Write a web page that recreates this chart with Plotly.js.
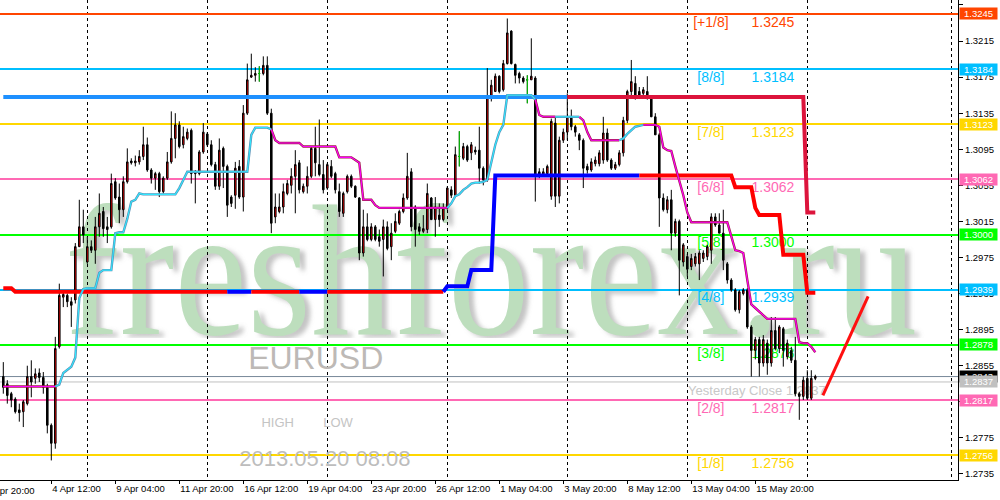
<!DOCTYPE html>
<html>
<head>
<meta charset="utf-8">
<script src="https://cdn.plot.ly/plotly-3.0.1.min.js"></script>
<style>
html,body{margin:0;padding:0;background:#ffffff;}
#chart{width:1000px;height:500px;}
</style>
</head>
<body>
<div id="chart"></div>
<script>
// ================= DATA (EURUSD, H4) =================
const opens = [
1.2843,1.2835,1.2824,1.2818,1.2806,1.2804,1.2813,1.2843,1.2841,1.2847,
1.2842,1.2831,1.2789,1.2769,1.2876,1.2931,1.2933,1.2926,1.2928,1.2987,
1.3009,1.2970,1.2987,1.2983,1.3009,1.3026,1.3009,1.3009,1.3059,1.3042,
1.3028,1.3059,1.3082,1.3080,1.3081,1.3087,1.3100,1.3072,1.3063,1.3068,
1.3048,1.3063,1.3081,1.3107,1.3122,1.3100,1.3107,1.3116,1.3070,1.3068,
1.3092,1.3112,1.3100,1.3078,1.3054,1.3096,1.3076,1.3042,1.3044,1.3076,
1.3042,1.3135,1.3175,1.3177,1.3179,1.3179,1.3188,1.3135,1.3020,1.3026,
1.3031,1.3046,1.3055,1.3065,1.3080,1.3048,1.3054,1.3065,1.3096,1.3078,
1.3067,1.3052,1.3076,1.3068,1.3048,1.3024,1.3048,1.3065,1.3054,1.3041,
1.2980,1.3009,1.2995,1.3009,1.2998,1.2995,1.3009,1.2987,1.3004,1.3013,
1.3026,1.3041,1.3070,1.3031,1.3009,1.3004,1.3006,1.3041,1.3017,1.3022,
1.3017,1.3030,1.3050,1.3044,1.3087,1.3085,1.3098,1.3091,1.3094,1.3094,
1.3074,1.3061,1.3153,1.3159,1.3176,1.3161,1.3190,1.3226,1.3189,1.3179,
1.3174,1.3172,1.3172,1.3174,1.3070,1.3067,1.3068,1.3043,1.3124,1.3043,
1.3105,1.3114,1.3131,1.3120,1.3111,1.3105,1.3076,1.3072,1.3079,1.3079,
1.3083,1.3113,1.3083,1.3074,1.3078,1.3091,1.3127,1.3159,1.3168,1.3159,
1.3157,1.3159,1.3152,1.3131,1.3111,1.3041,1.3028,1.3039,1.3002,1.3015,
1.2970,1.2976,1.2965,1.2968,1.2968,1.2974,1.2976,1.2983,1.3020,1.3011,
1.3002,1.2968,1.2950,1.2939,1.2917,1.2935,1.2939,1.2898,1.2872,1.2884,
1.2858,1.2880,1.2858,1.2894,1.2874,1.2896,1.2865,1.2872,1.2861,1.2824,
1.2821,1.2841,1.2819,1.2841
];
const highs = [
1.2859,1.2839,1.2826,1.2820,1.2813,1.2817,1.2855,1.2861,1.2852,1.2852,
1.2848,1.2835,1.2791,1.2887,1.2946,1.2937,1.2935,1.2931,1.2991,1.3039,
1.3028,1.2998,1.2994,1.3020,1.3046,1.3031,1.3020,1.3068,1.3063,1.3057,
1.3065,1.3096,1.3085,1.3088,1.3094,1.3120,1.3108,1.3074,1.3070,1.3070,
1.3065,1.3092,1.3137,1.3135,1.3126,1.3120,1.3118,1.3118,1.3072,1.3094,
1.3124,1.3114,1.3105,1.3081,1.3107,1.3098,1.3078,1.3044,1.3081,1.3083,
1.3144,1.3190,1.3201,1.3186,1.3187,1.3198,1.3198,1.3140,1.3046,1.3046,
1.3057,1.3061,1.3074,1.3094,1.3083,1.3057,1.3076,1.3098,1.3120,1.3128,
1.3083,1.3080,1.3083,1.3070,1.3057,1.3048,1.3067,1.3067,1.3055,1.3042,
1.3028,1.3024,1.3013,1.3011,1.3006,1.3017,1.3015,1.3013,1.3024,1.3028,
1.3046,1.3091,1.3074,1.3033,1.3013,1.3022,1.3057,1.3042,1.3042,1.3035,
1.3035,1.3054,1.3054,1.3098,1.3115,1.3102,1.3100,1.3103,1.3098,1.3120,
1.3076,1.3185,1.3172,1.3179,1.3177,1.3194,1.3240,1.3227,1.3190,1.3181,
1.3176,1.3177,1.3218,1.3176,1.3074,1.3074,1.3078,1.3129,1.3131,1.3109,
1.3118,1.3157,1.3139,1.3122,1.3113,1.3107,1.3079,1.3085,1.3087,1.3094,
1.3131,1.3118,1.3085,1.3081,1.3094,1.3131,1.3161,1.3194,1.3176,1.3164,
1.3164,1.3176,1.3155,1.3135,1.3113,1.3046,1.3043,1.3050,1.3018,1.3017,
1.2991,1.2979,1.2979,1.2980,1.2983,1.2983,1.2989,1.3024,1.3024,1.3024,
1.3028,1.2970,1.2952,1.2941,1.2939,1.2941,1.2941,1.2900,1.2887,1.2887,
1.2889,1.2884,1.2909,1.2909,1.2900,1.2898,1.2884,1.2876,1.2887,1.2826,
1.2843,1.2850,1.2850,1.2845
];
const lows = [
1.2824,1.2813,1.2809,1.2802,1.2793,1.2787,1.2811,1.2820,1.2835,1.2837,
1.2824,1.2780,1.2750,1.2763,1.2874,1.2920,1.2920,1.2898,1.2924,1.2987,
1.2991,1.2968,1.2980,1.2968,1.2998,1.2998,1.2991,1.3007,1.3039,1.3013,
1.3020,1.3057,1.3078,1.3076,1.3078,1.3083,1.3070,1.3057,1.3050,1.3042,
1.3046,1.3061,1.3079,1.3085,1.3096,1.3096,1.3105,1.3057,1.3035,1.3066,
1.3090,1.3098,1.3076,1.3050,1.3050,1.3052,1.3020,1.3031,1.3029,1.3040,
1.3026,1.3133,1.3174,1.3170,1.3170,1.3177,1.3133,1.3002,1.3013,1.3024,
1.3024,1.3044,1.3046,1.3024,1.3046,1.3046,1.3046,1.3063,1.3065,1.3065,
1.3046,1.3050,1.3063,1.3046,1.3020,1.3020,1.3046,1.3052,1.3041,1.2972,
1.2976,1.2993,1.2993,1.2993,1.2987,1.2954,1.2983,1.2972,1.3002,1.3011,
1.3024,1.3039,1.3004,1.2987,1.3000,1.3002,1.3002,1.3017,1.2998,1.3009,
1.3015,1.3028,1.3041,1.3044,1.3076,1.3083,1.3081,1.3083,1.3089,1.3057,
1.3055,1.3059,1.3148,1.3159,1.3157,1.3159,1.3189,1.3189,1.3168,1.3168,
1.3168,1.3146,1.3172,1.3037,1.3063,1.3065,1.3065,1.3039,1.3031,1.3035,
1.3102,1.3105,1.3116,1.3109,1.3094,1.3052,1.3068,1.3070,1.3076,1.3076,
1.3079,1.3081,1.3072,1.3072,1.3076,1.3087,1.3124,1.3153,1.3150,1.3152,
1.3155,1.3150,1.3131,1.3111,1.3009,1.3026,1.3024,1.2983,1.2998,1.2933,
1.2965,1.2954,1.2961,1.2965,1.2950,1.2970,1.2972,1.2968,1.3009,1.3002,
1.2961,1.2946,1.2937,1.2915,1.2913,1.2933,1.2896,1.2843,1.2862,1.2843,
1.2854,1.2845,1.2854,1.2872,1.2869,1.2854,1.2862,1.2858,1.2821,1.2795,
1.2817,1.2817,1.2817,1.2839
];
const closes = [
1.2831,1.2822,1.2817,1.2804,1.2803,1.2815,1.2843,1.2837,1.2846,1.2842,
1.2831,1.2789,1.2769,1.2874,1.2933,1.2934,1.2926,1.2922,1.2987,1.3009,
1.3000,1.2987,1.2983,1.3009,1.3024,1.3007,1.3006,1.3057,1.3041,1.3028,
1.3059,1.3081,1.3080,1.3082,1.3087,1.3100,1.3072,1.3063,1.3068,1.3048,
1.3063,1.3081,1.3107,1.3122,1.3098,1.3109,1.3114,1.3068,1.3068,1.3092,
1.3114,1.3100,1.3078,1.3054,1.3094,1.3076,1.3033,1.3035,1.3074,1.3042,
1.3135,1.3172,1.3177,1.3179,1.3179,1.3188,1.3135,1.3013,1.3031,1.3031,
1.3048,1.3057,1.3065,1.3078,1.3050,1.3054,1.3065,1.3096,1.3080,1.3067,
1.3050,1.3078,1.3065,1.3050,1.3026,1.3046,1.3065,1.3054,1.3042,1.2980,
1.3009,1.2995,1.3009,1.2995,1.2993,1.3009,1.2985,1.3002,1.3015,1.3026,
1.3041,1.3065,1.3009,1.3006,1.3004,1.3007,1.3046,1.3017,1.3031,1.3017,
1.3030,1.3052,1.3044,1.3089,1.3087,1.3098,1.3083,1.3100,1.3092,1.3074,
1.3061,1.3153,1.3166,1.3176,1.3159,1.3190,1.3224,1.3190,1.3177,1.3174,
1.3170,1.3172,1.3176,1.3065,1.3067,1.3070,1.3076,1.3126,1.3043,1.3105,
1.3114,1.3131,1.3120,1.3114,1.3105,1.3074,1.3072,1.3081,1.3083,1.3091,
1.3113,1.3083,1.3074,1.3078,1.3091,1.3127,1.3159,1.3170,1.3153,1.3155,
1.3161,1.3153,1.3131,1.3111,1.3041,1.3028,1.3039,1.3002,1.3015,1.2972,
1.2989,1.2962,1.2974,1.2976,1.2980,1.2980,1.2987,1.3020,1.3011,1.3002,
1.2972,1.2950,1.2939,1.2917,1.2937,1.2939,1.2898,1.2872,1.2884,1.2858,
1.2884,1.2858,1.2894,1.2874,1.2898,1.2872,1.2880,1.2861,1.2824,1.2821,
1.2839,1.2819,1.2841,1.2843
];
const dojiBars = [64, 114, 131];

// x-axis time labels (bar index -> label)
const timeTickBars = [-4, 12, 28, 44, 60, 76, 92, 108, 124, 140, 156, 172, 188];
const timeTickText = ["1 Apr 20:00","4 Apr 12:00","9 Apr 04:00","11 Apr 20:00","16 Apr 12:00","19 Apr 04:00",
  "23 Apr 20:00","26 Apr 12:00","1 May 04:00","3 May 20:00","8 May 12:00","13 May 04:00","15 May 20:00"];
const gridBars = [21, 51, 81, 111, 141, 171, 201, 237.1];
const priceTicks = [1.3255,1.3215,1.3175,1.3135,1.3095,1.3055,1.3015,1.2975,1.2935,1.2895,1.2855,1.2815,1.2775,1.2735];

// Murrey Math levels
const mmLevels = [1.3245, 1.3184, 1.3123, 1.3062, 1.3000, 1.2939, 1.2878, 1.2817, 1.2756];
const mmNames  = ["[+1/8]","[8/8]","[7/8]","[6/8]","[5/8]","[4/8]","[3/8]","[2/8]","[1/8]"];
const mmColors = ["#FF4500","#00BFFF","#FFD700","#FF69B4","#00FF00","#00BFFF","#00FF00","#FF69B4","#FFD700"];
const bidPrice = 1.2843;
const yesterdayClose = 1.2837;

// Upper channel line (vertices: bar, price) and colour changes
const upperX = [0, 141, 200, 201, 203];
const upperY = [1.3153, 1.3153, 1.3153, 1.3025, 1.3025];
const upperChanges = [[0, "b"], [141, "r"]];

// Lower channel line
const lowerX = [0, 2, 3, 56, 62, 74, 81, 110, 111, 116, 117, 122, 123, 159, 182, 183, 187, 188, 189, 194, 195, 200, 201, 203];
const lowerY = [1.2941,1.2941,1.2937,1.2937,1.2937,1.2937,1.2937,1.2937,1.2943,1.2943,1.2961,1.2961,1.3066,1.3066,1.3066,1.3053,1.3053,1.3030,1.3022,1.3022,1.2978,1.2978,1.2936,1.2936];
const lowerChanges = [[0,"r"],[56,"b"],[62,"r"],[74,"b"],[81,"r"],[110,"b"],[159,"r"]];

// Trailing stop line (cyan = up, magenta = down)
const stopX = [0,13,14,15,16,17,18,19,20,21,23,24,25,27,28,29,30,31,32,33,34,35,43,44,45,46,61,62,63,66,67,68,69,74,75,83,84,87,88,89,90,92,93,94,110,111,112,113,114,115,116,117,118,119,120,121,122,123,124,125,126,132,133,134,135,138,144,145,146,147,154,155,156,157,158,159,160,163,164,165,166,167,168,169,170,171,172,181,182,183,184,185,186,187,188,189,190,191,198,199,200,201,202,203];
const stopY = [1.2832,1.2832,1.2834,1.2847,1.2851,1.2854,1.2864,1.2930,1.2940,1.2941,1.2941,1.2958,1.2961,1.2961,1.3002,1.3003,1.3003,1.3018,1.3037,1.3039,1.3046,1.3045,1.3045,1.3052,1.3061,1.3070,1.3070,1.3111,1.3119,1.3119,1.3117,1.3105,1.3102,1.3102,1.3098,1.3098,1.3086,1.3086,1.3083,1.3080,1.3039,1.3039,1.3033,1.3030,1.3030,1.3030,1.3035,1.3043,1.3045,1.3050,1.3053,1.3057,1.3058,1.3058,1.3059,1.3061,1.3079,1.3100,1.3114,1.3122,1.3155,1.3155,1.3150,1.3133,1.3131,1.3131,1.3131,1.3127,1.3114,1.3105,1.3105,1.3107,1.3112,1.3116,1.3120,1.3121,1.3122,1.3122,1.3120,1.3097,1.3094,1.3093,1.3076,1.3061,1.3044,1.3025,1.3014,1.3014,1.2999,1.2983,1.2982,1.2980,1.2950,1.2923,1.2919,1.2915,1.2910,1.2907,1.2907,1.2881,1.2880,1.2880,1.2876,1.2870];
const stopChanges = [[0,"m"],[13,"c"],[67,"m"],[111,"c"],[133,"m"],[138,"c"],[144,"m"],[154,"c"],[160,"m"]];

// Hand-drawn forecast line
const forecastX = [204.9, 216.2];
const forecastY = [1.2822, 1.2932];

// ================= LAYOUT CONSTANTS =================
const X_MIN = -0.825, X_MAX = 238.675;
const Y_MIN = 1.27283, Y_MAX = 1.32605;
const FONT = "Liberation Sans, Arial, sans-serif";
const WATERMARK = "freshforex.ru";

// ================= BUILD =================
const bars = opens.map((_, i) => i);
const traces = [];

// --- main subplot (behind candles): levels and labels ---
mmLevels.forEach((lv, i) => {
  traces.push({type:"scatter", mode:"lines", x:[X_MIN, X_MAX], y:[lv, lv],
    line:{color:mmColors[i], width:2}, hoverinfo:"skip", showlegend:false});
});
traces.push({type:"scatter", mode:"lines", x:[X_MIN, X_MAX], y:[bidPrice, bidPrice], line:{color:"#778899", width:1}, hoverinfo:"skip", showlegend:false});
traces.push({type:"scatter", mode:"lines", x:[X_MIN, X_MAX], y:[yesterdayClose, yesterdayClose], line:{color:"#C0C0C0", width:1}, hoverinfo:"skip", showlegend:false});

const labOff = 0.0010;
traces.push({type:"scatter", mode:"text", x:mmLevels.map(() => 176.9), y:mmLevels.map(v => v - labOff),
  text:mmNames, textposition:"middle center", textfont:{family:FONT, size:14, color:mmColors}, hoverinfo:"skip", showlegend:false});
traces.push({type:"scatter", mode:"text", x:mmLevels.map(() => 192.4), y:mmLevels.map(v => v - labOff),
  text:mmLevels.map(v => v.toFixed(4)), textposition:"middle center", textfont:{family:FONT, size:14, color:mmColors}, hoverinfo:"skip", showlegend:false});

traces.push({type:"scatter", mode:"text", x:[171.2], y:[1.28262], text:["Yesterday Close " + yesterdayClose.toFixed(4)],
  textposition:"middle right", textfont:{family:FONT, size:13, color:"#C8C8C8"}, hoverinfo:"skip", showlegend:false});
traces.push({type:"scatter", mode:"text", x:[78.1], y:[1.28602], text:["EURUSD"], textposition:"middle center",
  textfont:{family:FONT, size:32, color:"#BDB9B6"}, hoverinfo:"skip", showlegend:false});
traces.push({type:"scatter", mode:"text", x:[68.6, 83.7], y:[1.27904, 1.27904], text:["HIGH","LOW"], textposition:"middle center",
  textfont:{family:FONT, size:13, color:"#C4C4C4"}, hoverinfo:"skip", showlegend:false});
traces.push({type:"scatter", mode:"text", x:[80.4], y:[1.27504], text:["2013.05.20 08:08"], textposition:"middle center",
  textfont:{family:FONT, size:22, color:"#BDBDBD"}, hoverinfo:"skip", showlegend:false});

// --- overlay subplot: candles + indicators ---
traces.push({type:"candlestick", x:bars, open:opens, high:highs, low:lows, close:closes,
  xaxis:"x2", yaxis:"y2", whiskerwidth:0,
  increasing:{line:{color:"#000000", width:1}, fillcolor:"#FF0000"},
  decreasing:{line:{color:"#000000", width:1}, fillcolor:"#000000"},
  hoverinfo:"skip", showlegend:false});
traces.push({type:"candlestick", x:dojiBars, open:dojiBars.map(i => opens[i]), high:dojiBars.map(i => highs[i]),
  low:dojiBars.map(i => lows[i]), close:dojiBars.map(i => closes[i]),
  xaxis:"x2", yaxis:"y2", whiskerwidth:0,
  increasing:{line:{color:"#00CC00", width:1}, fillcolor:"#00CC00"},
  decreasing:{line:{color:"#00CC00", width:1}, fillcolor:"#00CC00"},
  hoverinfo:"skip", showlegend:false});

function segTraces(vx, vy, changes, palette, width) {
  const colorAt = b => { let k = changes[0][1]; changes.forEach(c => { if (b >= c[0]) k = c[1]; }); return k; };
  const groups = [];
  let cur = null;
  for (let k = 0; k < vx.length - 1; k++) {
    const key = colorAt(vx[k]);
    if (!cur || cur.key !== key) { cur = {key:key, x:[vx[k]], y:[vy[k]]}; groups.push(cur); }
    cur.x.push(vx[k + 1]); cur.y.push(vy[k + 1]);
  }
  return groups.map(g => ({type:"scatter", mode:"lines", x:g.x, y:g.y, xaxis:"x2", yaxis:"y2",
    line:{color:palette[g.key], width:width}, hoverinfo:"skip", showlegend:false}));
}
segTraces(lowerX, lowerY, lowerChanges, {r:"#FF0000", b:"#0000FF"}, 4).forEach(t => traces.push(t));
segTraces(upperX, upperY, upperChanges, {b:"#1E90FF", r:"#DC143C"}, 4).forEach(t => traces.push(t));
segTraces(stopX, stopY, stopChanges, {c:"#5A8FB5", m:"#A0204A"}, 2.4).forEach(t => traces.push(t));
segTraces(stopX, stopY, stopChanges, {c:"#30E8FF", m:"#FF00FF"}, 1.1).forEach(t => traces.push(t));
traces.push({type:"scatter", mode:"lines", x:forecastX, y:forecastY, xaxis:"x2", yaxis:"y2",
  line:{color:"#FF1010", width:3}, hoverinfo:"skip", showlegend:false});

// --- watermark as a stretched SVG image under everything ---
const wmSvg = '<svg xmlns="http://www.w3.org/2000/svg" width="520" height="72" viewBox="0 0 520 72" preserveAspectRatio="none">' +
  '<defs><filter id="bl" x="-5%" y="-30%" width="110%" height="160%"><feGaussianBlur stdDeviation="1.4"/></filter></defs>' +
  '<text x="3.2" y="71.2" font-family="Liberation Serif, Times New Roman, serif" font-size="100" fill="#8C8C8C" fill-opacity="0.5" filter="url(#bl)" textLength="514" lengthAdjust="spacingAndGlyphs">' + WATERMARK + '</text>' +
  '<text x="0" y="70" font-family="Liberation Serif, Times New Roman, serif" font-size="100" fill="#BDDEBD" textLength="514" lengthAdjust="spacingAndGlyphs">' + WATERMARK + '</text>' +
  '</svg>';
const images = [{source:"data:image/svg+xml;charset=utf-8," + encodeURIComponent(wmSvg),
  xref:"paper", yref:"paper", x:65/958, y:1 - 203/480, sizex:862/958, sizey:135/480,
  xanchor:"left", yanchor:"top", sizing:"stretch", layer:"below"}];

// --- right axis price tags ---
const tags = mmLevels.map((v, i) => ({v:v, bg:mmColors[i]}));
tags.push({v:bidPrice, bg:"#000000"});
tags.push({v:yesterdayClose, bg:"#C0C0C0"});
const annotations = tags.map(t => ({xref:"paper", x:1, xanchor:"left", xshift:1, yref:"y", y:t.v, yanchor:"middle",
  text:t.v.toFixed(4), showarrow:false, bgcolor:t.bg, font:{family:FONT, size:9.5, color:"#FFFFFF"},
  width:37, height:11, borderpad:0}));
annotations.push({xref:"paper", yref:"paper", x:(timeTickBars[0] - X_MIN) / (X_MAX - X_MIN), y:0, xanchor:"left", yanchor:"top",
  xshift:-3, yshift:-3, text:timeTickText[0], showarrow:false, font:{family:FONT, size:9.5, color:"#000"}});

const layout = {
  width:1000, height:500,
  margin:{l:0, r:42, t:0, b:20, pad:0},
  paper_bgcolor:"#FFFFFF", plot_bgcolor:"#FFFFFF",
  showlegend:false, boxgap:0.45,
  images:images,
  xaxis:{range:[X_MIN, X_MAX], tickmode:"array", tickvals:timeTickBars.slice(1), ticktext:timeTickText.slice(1),
    ticklabelposition:"outside right", tickangle:0, ticks:"outside", ticklen:3, tickcolor:"#000", showline:true, linecolor:"#000", linewidth:1,
    showgrid:false, zeroline:false, tickfont:{family:FONT, size:9.5, color:"#000"}, rangeslider:{visible:false}, fixedrange:true,
    minor:{tickmode:"array", tickvals:gridBars, showgrid:true, gridcolor:"#000000", gridwidth:1, griddash:"3px,3px", ticks:""}},
  yaxis:{range:[Y_MIN, Y_MAX], side:"right", tickmode:"array", tickvals:priceTicks, ticktext:priceTicks.map(v => v.toFixed(4)),
    ticks:"outside", ticklen:4, tickcolor:"#000", showline:true, linecolor:"#000", linewidth:1, showgrid:false, zeroline:false,
    tickfont:{family:FONT, size:9.5, color:"#000"}, fixedrange:true},
  xaxis2:{overlaying:"x", range:[X_MIN, X_MAX], visible:false, showgrid:false, zeroline:false, rangeslider:{visible:false}, fixedrange:true},
  yaxis2:{overlaying:"y", range:[Y_MIN, Y_MAX], visible:false, showgrid:false, zeroline:false, fixedrange:true},
  annotations:annotations
};

Plotly.newPlot("chart", traces, layout, {staticPlot:true, displayModeBar:false});
</script>
</body>
</html>
